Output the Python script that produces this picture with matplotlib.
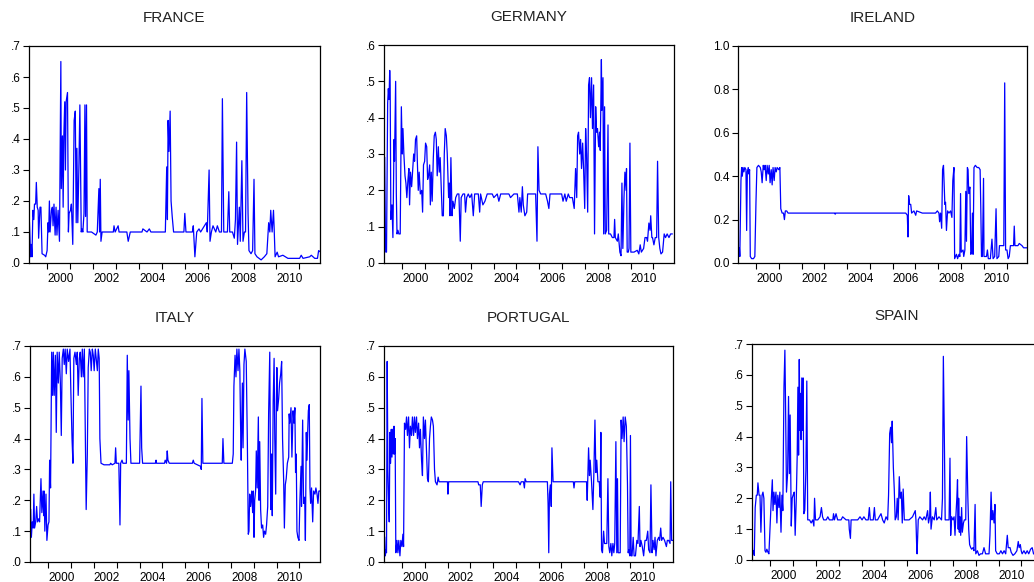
import matplotlib
matplotlib.use("Agg")
import matplotlib.pyplot as plt
from matplotlib.ticker import FixedLocator, FuncFormatter

plt.rcParams['font.family'] = ['Liberation Sans', 'DejaVu Sans']

# values, as (decimal year, value)
france_x = [1999.22, 1999.27, 1999.30, 1999.33, 1999.37, 1999.41, 1999.44, 1999.49, 1999.52, 1999.56,
            1999.60, 1999.62, 1999.68, 1999.72, 1999.77, 1999.88, 1999.93, 1999.99, 2000.03, 2000.06,
            2000.09, 2000.12, 2000.18, 2000.22, 2000.25, 2000.29, 2000.34, 2000.38, 2000.42, 2000.47,
            2000.53, 2000.59, 2000.61, 2000.66, 2000.69, 2000.72, 2000.76, 2000.79, 2000.82, 2000.88,
            2000.92, 2000.95, 2001.01, 2001.05, 2001.11, 2001.17, 2001.22, 2001.26, 2001.29, 2001.33,
            2001.38, 2001.42, 2001.48, 2001.51, 2001.55, 2001.60, 2001.64, 2001.67, 2001.71, 2001.74,
            2001.93, 2002.12, 2002.18, 2002.25, 2002.28, 2002.31, 2002.34, 2002.39, 2002.88, 2002.91,
            2002.96, 2003.09, 2003.13, 2003.47, 2003.53, 2003.62, 2004.13, 2004.17, 2004.35, 2004.45,
            2004.52, 2005.15, 2005.21, 2005.24, 2005.27, 2005.31, 2005.36, 2005.40, 2005.45, 2005.51,
            2005.96, 2006.00, 2006.05, 2006.33, 2006.37, 2006.44, 2006.52, 2006.62, 2006.69, 2006.94,
            2006.98, 2007.06, 2007.10, 2007.16, 2007.23, 2007.35, 2007.42, 2007.51, 2007.60, 2007.64,
            2007.70, 2007.86, 2007.92, 2007.96, 2008.08, 2008.16, 2008.21, 2008.26, 2008.30, 2008.38,
            2008.42, 2008.49, 2008.54, 2008.60, 2008.65, 2008.70, 2008.76, 2008.80, 2008.89, 2008.96,
            2009.02, 2009.06, 2009.15, 2009.33, 2009.47, 2009.58, 2009.66, 2009.71, 2009.75, 2009.81,
            2009.87, 2009.90, 2009.94, 2010.03, 2010.09, 2010.28, 2010.50, 2011.01, 2011.08, 2011.16,
            2011.45, 2011.52, 2011.67, 2011.79, 2011.84, 2011.93]
france_y = [0.13, 0.02, 0.06, 0.02, 0.17, 0.14, 0.19, 0.19, 0.26, 0.18,
            0.17, 0.08, 0.18, 0.18, 0.03, 0.025, 0.02, 0.04, 0.13, 0.10,
            0.20, 0.10, 0.17, 0.18, 0.12, 0.19, 0.09, 0.18, 0.09, 0.17,
            0.07, 0.65, 0.24, 0.41, 0.18, 0.41, 0.52, 0.30, 0.52, 0.55,
            0.10, 0.16, 0.17, 0.19, 0.06, 0.46, 0.49, 0.13, 0.37, 0.13,
            0.32, 0.51, 0.10, 0.11, 0.10, 0.16, 0.51, 0.15, 0.51, 0.10,
            0.10, 0.09, 0.10, 0.24, 0.10, 0.27, 0.07, 0.10, 0.10, 0.12,
            0.10, 0.12, 0.10, 0.10, 0.07, 0.10, 0.10, 0.11, 0.10, 0.11,
            0.10, 0.10, 0.31, 0.14, 0.46, 0.36, 0.49, 0.20, 0.15, 0.10,
            0.10, 0.16, 0.10, 0.10, 0.12, 0.02, 0.10, 0.11, 0.10, 0.13,
            0.10, 0.30, 0.07, 0.10, 0.12, 0.10, 0.12, 0.10, 0.10, 0.53,
            0.10, 0.10, 0.23, 0.10, 0.10, 0.08, 0.14, 0.39, 0.06, 0.18,
            0.07, 0.33, 0.07, 0.10, 0.10, 0.55, 0.16, 0.04, 0.03, 0.04,
            0.27, 0.03, 0.02, 0.01, 0.02, 0.03, 0.13, 0.10, 0.17, 0.10,
            0.17, 0.11, 0.02, 0.035, 0.02, 0.025, 0.015, 0.015, 0.025, 0.015,
            0.02, 0.025, 0.015, 0.015, 0.04, 0.035]

germany_x = [1999.23, 1999.26, 1999.28, 1999.31, 1999.36, 1999.39, 1999.42, 1999.45, 1999.47, 1999.50,
             1999.55, 1999.59, 1999.64, 1999.66, 1999.71, 1999.74, 1999.77, 1999.81, 1999.85, 1999.91,
             1999.96, 2000.00, 2000.03, 2000.07, 2000.12, 2000.16, 2000.20, 2000.25, 2000.29, 2000.32,
             2000.36, 2000.41, 2000.45, 2000.50, 2000.54, 2000.58, 2000.63, 2000.66, 2000.70, 2000.74,
             2000.79, 2000.85, 2000.89, 2000.93, 2000.98, 2001.02, 2001.07, 2001.11, 2001.15, 2001.20,
             2001.23, 2001.27, 2001.31, 2001.36, 2001.40, 2001.45, 2001.49, 2001.53, 2001.58, 2001.62,
             2001.66, 2001.71, 2001.75, 2001.80, 2001.84, 2001.88, 2001.93, 2001.97, 2002.03, 2002.06,
             2002.09, 2002.13, 2002.18, 2002.22, 2002.28, 2002.34, 2002.41, 2002.48, 2002.54, 2002.58,
             2002.66, 2002.73, 2002.77, 2002.82, 2002.89, 2002.96, 2003.04, 2003.11, 2003.17, 2003.26,
             2003.33, 2003.39, 2003.43, 2003.53, 2003.62, 2003.72, 2003.94, 2004.01, 2004.16, 2004.23,
             2004.31, 2004.67, 2004.74, 2004.89, 2005.04, 2005.11, 2005.15, 2005.21, 2005.26, 2005.30,
             2005.37, 2005.45, 2005.49, 2005.62, 2005.77, 2005.84, 2005.90, 2005.94, 2005.99, 2006.06,
             2006.28, 2006.36, 2006.42, 2006.47, 2006.72, 2006.98, 2007.04, 2007.12, 2007.18, 2007.27,
             2007.33, 2007.45, 2007.53, 2007.59, 2007.64, 2007.68, 2007.72, 2007.77, 2007.81, 2007.85,
             2007.90, 2007.94, 2007.99, 2008.03, 2008.07, 2008.12, 2008.16, 2008.20, 2008.24, 2008.29,
             2008.33, 2008.38, 2008.42, 2008.47, 2008.51, 2008.55, 2008.60, 2008.64, 2008.67, 2008.72,
             2008.74, 2008.79, 2008.82, 2008.86, 2008.89, 2008.95, 2009.01, 2009.04, 2009.12, 2009.20,
             2009.27, 2009.30, 2009.33, 2009.42, 2009.46, 2009.53, 2009.58, 2009.62, 2009.66, 2009.71,
             2009.75, 2009.80, 2009.82, 2009.85, 2009.90, 2009.93, 2009.97, 2010.01, 2010.15, 2010.29,
             2010.36, 2010.42, 2010.47, 2010.57, 2010.63, 2010.70, 2010.74, 2010.80, 2010.85, 2010.88,
             2010.93, 2010.96, 2011.02, 2011.08, 2011.14, 2011.18, 2011.23, 2011.28, 2011.33, 2011.40,
             2011.47, 2011.53, 2011.60, 2011.68, 2011.75, 2011.82]
germany_y = [0.29, 0.08, 0.03, 0.03, 0.44, 0.48, 0.45, 0.53, 0.49, 0.12,
             0.16, 0.07, 0.34, 0.28, 0.50, 0.19, 0.08, 0.09, 0.08, 0.08,
             0.43, 0.30, 0.37, 0.30, 0.24, 0.22, 0.18, 0.23, 0.26, 0.16,
             0.25, 0.21, 0.25, 0.30, 0.28, 0.34, 0.35, 0.28, 0.20, 0.25,
             0.19, 0.20, 0.14, 0.27, 0.28, 0.33, 0.32, 0.23, 0.24, 0.27,
             0.16, 0.25, 0.17, 0.29, 0.35, 0.36, 0.34, 0.24, 0.32, 0.25,
             0.29, 0.20, 0.13, 0.13, 0.30, 0.37, 0.35, 0.30, 0.18, 0.22,
             0.13, 0.29, 0.13, 0.17, 0.15, 0.18, 0.19, 0.19, 0.06, 0.18,
             0.19, 0.19, 0.14, 0.18, 0.19, 0.18, 0.19, 0.13, 0.19, 0.19,
             0.19, 0.14, 0.19, 0.16, 0.17, 0.19, 0.19, 0.18, 0.19, 0.17,
             0.19, 0.19, 0.18, 0.19, 0.19, 0.14, 0.18, 0.14, 0.21, 0.16,
             0.13, 0.14, 0.19, 0.19, 0.19, 0.19, 0.06, 0.32, 0.20, 0.19,
             0.19, 0.17, 0.15, 0.19, 0.19, 0.19, 0.17, 0.19, 0.17, 0.19,
             0.18, 0.18, 0.15, 0.26, 0.18, 0.35, 0.36, 0.30, 0.34, 0.26,
             0.33, 0.26, 0.15, 0.37, 0.30, 0.14, 0.49, 0.51, 0.40, 0.51,
             0.37, 0.49, 0.08, 0.43, 0.36, 0.37, 0.32, 0.36, 0.31, 0.56,
             0.42, 0.51, 0.08, 0.43, 0.08, 0.09, 0.38, 0.08, 0.08, 0.07,
             0.07, 0.12, 0.07, 0.06, 0.08, 0.03, 0.02, 0.22, 0.04, 0.18,
             0.25, 0.20, 0.26, 0.03, 0.03, 0.04, 0.33, 0.03, 0.03, 0.035,
             0.025, 0.05, 0.03, 0.04, 0.07, 0.07, 0.06, 0.11, 0.09, 0.13,
             0.07, 0.07, 0.05, 0.07, 0.07, 0.28, 0.07, 0.04, 0.025, 0.03,
             0.08, 0.07, 0.08, 0.07, 0.08, 0.08]

ireland_x = [1999.20, 1999.23, 1999.26, 1999.28, 1999.33, 1999.36, 1999.39, 1999.42, 1999.46, 1999.50,
             1999.55, 1999.58, 1999.61, 1999.65, 1999.68, 1999.71, 1999.74, 1999.80, 1999.88, 1999.94,
             1999.99, 2000.03, 2000.10, 2000.18, 2000.22, 2000.26, 2000.31, 2000.35, 2000.39, 2000.44,
             2000.48, 2000.53, 2000.57, 2000.61, 2000.66, 2000.70, 2000.74, 2000.79, 2000.83, 2000.88,
             2000.92, 2000.99, 2001.04, 2001.08, 2001.14, 2001.20, 2001.24, 2001.28, 2001.34, 2001.40,
             2002.63, 2003.46, 2003.47, 2003.50, 2004.38, 2005.26, 2006.20, 2006.57, 2006.64, 2006.67,
             2006.70, 2006.74, 2006.79, 2006.83, 2006.93, 2007.01, 2007.05, 2007.30, 2007.88, 2007.96,
             2008.03, 2008.06, 2008.10, 2008.15, 2008.19, 2008.23, 2008.29, 2008.32, 2008.36, 2008.41,
             2008.47, 2008.54, 2008.60, 2008.64, 2008.69, 2008.72, 2008.76, 2008.80, 2008.85, 2008.91,
             2008.95, 2008.98, 2009.01, 2009.09, 2009.12, 2009.17, 2009.21, 2009.24, 2009.28, 2009.31,
             2009.34, 2009.39, 2009.43, 2009.47, 2009.50, 2009.53, 2009.57, 2009.63, 2009.71, 2009.78,
             2009.84, 2009.87, 2009.90, 2009.94, 2009.99, 2010.01, 2010.12, 2010.16, 2010.20, 2010.29,
             2010.36, 2010.41, 2010.48, 2010.54, 2010.58, 2010.66, 2010.69, 2010.80, 2010.88, 2010.92,
             2010.96, 2011.02, 2011.07, 2011.12, 2011.17, 2011.31, 2011.34, 2011.37, 2011.50, 2011.56,
             2011.68, 2011.75, 2011.90]
ireland_y = [0.07, 0.03, 0.07, 0.03, 0.38, 0.44, 0.40, 0.44, 0.42, 0.44,
             0.43, 0.15, 0.42, 0.44, 0.41, 0.43, 0.03, 0.02, 0.02, 0.03,
             0.28, 0.44, 0.45, 0.44, 0.42, 0.37, 0.45, 0.43, 0.45, 0.38,
             0.45, 0.41, 0.45, 0.37, 0.43, 0.36, 0.44, 0.38, 0.44, 0.42,
             0.44, 0.43, 0.44, 0.25, 0.23, 0.23, 0.20, 0.24, 0.24, 0.23,
             0.23, 0.23, 0.225, 0.23, 0.23, 0.23, 0.23, 0.23, 0.22, 0.12,
             0.31, 0.27, 0.27, 0.23, 0.24, 0.22, 0.24, 0.23, 0.23, 0.24,
             0.23, 0.19, 0.23, 0.16, 0.43, 0.45, 0.27, 0.28, 0.15, 0.24,
             0.23, 0.24, 0.21, 0.38, 0.44, 0.02, 0.03, 0.04, 0.02, 0.04,
             0.03, 0.32, 0.05, 0.06, 0.03, 0.06, 0.33, 0.10, 0.44, 0.43,
             0.32, 0.35, 0.04, 0.05, 0.23, 0.04, 0.44, 0.45, 0.44, 0.44,
             0.43, 0.25, 0.03, 0.03, 0.39, 0.03, 0.03, 0.06, 0.02, 0.02,
             0.11, 0.02, 0.03, 0.25, 0.02, 0.03, 0.08, 0.08, 0.08, 0.83,
             0.06, 0.06, 0.02, 0.03, 0.08, 0.08, 0.17, 0.08, 0.08, 0.09,
             0.08, 0.07, 0.07]

italy_x = [1999.23, 1999.26, 1999.30, 1999.34, 1999.37, 1999.40, 1999.45, 1999.49, 1999.53, 1999.58,
           1999.62, 1999.68, 1999.72, 1999.77, 1999.80, 1999.82, 1999.85, 1999.90, 1999.94, 1999.99,
           2000.03, 2000.06, 2000.10, 2000.15, 2000.19, 2000.22, 2000.26, 2000.31, 2000.35, 2000.39,
           2000.44, 2000.48, 2000.53, 2000.57, 2000.61, 2000.66, 2000.70, 2000.74, 2000.79, 2000.83,
           2000.89, 2000.95, 2000.99, 2001.04, 2001.08, 2001.12, 2001.17, 2001.23, 2001.27, 2001.31,
           2001.36, 2001.40, 2001.45, 2001.49, 2001.53, 2001.58, 2001.62, 2001.66, 2001.71, 2001.75,
           2001.80, 2001.84, 2001.88, 2001.93, 2001.97, 2002.01, 2002.06, 2002.10, 2002.15, 2002.19,
           2002.23, 2002.26, 2002.31, 2002.44, 2002.70, 2002.73, 2002.80, 2002.92, 2002.95, 2002.98,
           2003.09, 2003.14, 2003.17, 2003.23, 2003.27, 2003.42, 2003.46, 2003.50, 2003.53, 2003.58,
           2003.62, 2004.00, 2004.03, 2004.06, 2004.09, 2004.13, 2004.69, 2004.72, 2004.74, 2005.09,
           2005.12, 2005.18, 2005.21, 2005.24, 2005.30, 2005.87, 2006.31, 2006.35, 2006.39, 2006.67,
           2006.70, 2006.73, 2006.77, 2007.62, 2007.65, 2007.69, 2008.06, 2008.10, 2008.13, 2008.18,
           2008.22, 2008.26, 2008.31, 2008.35, 2008.39, 2008.42, 2008.45, 2008.50, 2008.53, 2008.57,
           2008.61, 2008.67, 2008.72, 2008.76, 2008.79, 2008.82, 2008.86, 2008.91, 2008.95, 2008.98,
           2009.01, 2009.04, 2009.08, 2009.11, 2009.15, 2009.20, 2009.23, 2009.26, 2009.30, 2009.34,
           2009.39, 2009.43, 2009.47, 2009.52, 2009.56, 2009.61, 2009.65, 2009.70, 2009.74, 2009.78,
           2009.81, 2009.85, 2009.89, 2009.92, 2009.96, 2009.99, 2010.01, 2010.04, 2010.09, 2010.13,
           2010.18, 2010.22, 2010.26, 2010.31, 2010.34, 2010.38, 2010.42, 2010.47, 2010.53, 2010.55,
           2010.58, 2010.63, 2010.67, 2010.72, 2010.76, 2010.80, 2010.83, 2010.86, 2010.89, 2010.93,
           2010.98, 2011.02, 2011.07, 2011.09, 2011.14, 2011.18, 2011.23, 2011.26, 2011.30, 2011.33,
           2011.36, 2011.39, 2011.43, 2011.46, 2011.49, 2011.53, 2011.58, 2011.62, 2011.68, 2011.72,
           2011.77, 2011.81, 2011.85, 2011.90]
italy_y = [0.17, 0.08, 0.13, 0.11, 0.22, 0.11, 0.13, 0.18, 0.13, 0.14,
           0.13, 0.27, 0.16, 0.23, 0.15, 0.23, 0.10, 0.22, 0.07, 0.12,
           0.13, 0.33, 0.24, 0.68, 0.54, 0.68, 0.54, 0.67, 0.42, 0.68,
           0.58, 0.68, 0.58, 0.41, 0.66, 0.69, 0.64, 0.69, 0.61, 0.69,
           0.65, 0.69, 0.55, 0.40, 0.32, 0.66, 0.68, 0.64, 0.68, 0.54,
           0.66, 0.68, 0.60, 0.69, 0.60, 0.69, 0.42, 0.17, 0.35, 0.63,
           0.69, 0.68, 0.62, 0.69, 0.67, 0.62, 0.69, 0.66, 0.62, 0.69,
           0.66, 0.40, 0.32, 0.315, 0.315, 0.32, 0.315, 0.32, 0.37, 0.32,
           0.32, 0.12, 0.32, 0.33, 0.32, 0.32, 0.67, 0.46, 0.62, 0.40,
           0.32, 0.32, 0.44, 0.57, 0.37, 0.32, 0.32, 0.33, 0.32, 0.32,
           0.33, 0.32, 0.36, 0.33, 0.32, 0.32, 0.32, 0.33, 0.32, 0.31,
           0.30, 0.53, 0.32, 0.32, 0.40, 0.32, 0.32, 0.35, 0.57, 0.67,
           0.60, 0.69, 0.62, 0.69, 0.62, 0.45, 0.33, 0.58, 0.37, 0.64,
           0.69, 0.65, 0.38, 0.09, 0.10, 0.22, 0.18, 0.23, 0.16, 0.23,
           0.08, 0.20, 0.23, 0.36, 0.24, 0.47, 0.20, 0.39, 0.17, 0.11,
           0.12, 0.08, 0.10, 0.09, 0.12, 0.18, 0.48, 0.68, 0.17, 0.35,
           0.15, 0.52, 0.66, 0.40, 0.22, 0.52, 0.63, 0.49, 0.53, 0.58,
           0.61, 0.65, 0.40, 0.26, 0.11, 0.25, 0.27, 0.32, 0.34, 0.48,
           0.45, 0.50, 0.34, 0.49, 0.45, 0.50, 0.29, 0.35, 0.10, 0.08,
           0.07, 0.20, 0.31, 0.18, 0.46, 0.19, 0.21, 0.07, 0.42, 0.33,
           0.42, 0.49, 0.51, 0.24, 0.19, 0.24, 0.13, 0.23, 0.22, 0.24,
           0.22, 0.19, 0.23, 0.23]

portugal_x = [1999.23, 1999.26, 1999.28, 1999.31, 1999.34, 1999.37, 1999.40, 1999.43, 1999.46, 1999.49,
              1999.52, 1999.55, 1999.58, 1999.61, 1999.64, 1999.66, 1999.69, 1999.72, 1999.77, 1999.81,
              1999.85, 1999.90, 1999.94, 1999.99, 2000.03, 2000.06, 2000.10, 2000.15, 2000.19, 2000.23,
              2000.28, 2000.32, 2000.36, 2000.41, 2000.45, 2000.50, 2000.54, 2000.58, 2000.63, 2000.67,
              2000.72, 2000.76, 2000.80, 2000.85, 2000.89, 2000.93, 2000.98, 2001.02, 2001.07, 2001.11,
              2001.15, 2001.20, 2001.24, 2001.28, 2001.33, 2001.37, 2001.42, 2001.46, 2001.53, 2001.58,
              2001.62, 2001.99, 2002.01, 2002.04, 2003.33, 2003.36, 2003.43, 2003.47, 2003.52, 2003.56,
              2005.11, 2005.18, 2005.23, 2005.33, 2005.37, 2005.40, 2005.45, 2006.38, 2006.41, 2006.44,
              2006.47, 2006.51, 2006.55, 2006.58, 2006.63, 2007.52, 2007.55, 2007.58, 2008.10, 2008.13,
              2008.19, 2008.23, 2008.26, 2008.32, 2008.38, 2008.42, 2008.47, 2008.51, 2008.55, 2008.60,
              2008.66, 2008.70, 2008.73, 2008.76, 2008.80, 2008.85, 2008.89, 2008.99, 2009.04, 2009.08,
              2009.12, 2009.17, 2009.21, 2009.26, 2009.30, 2009.34, 2009.39, 2009.43, 2009.46, 2009.49,
              2009.58, 2009.62, 2009.66, 2009.71, 2009.75, 2009.80, 2009.85, 2009.90, 2009.93, 2009.96,
              2010.00, 2010.03, 2010.06, 2010.10, 2010.15, 2010.19, 2010.25, 2010.31, 2010.36, 2010.42,
              2010.45, 2010.49, 2010.55, 2010.61, 2010.67, 2010.73, 2010.79, 2010.83, 2010.89, 2010.93,
              2010.98, 2011.02, 2011.07, 2011.11, 2011.15, 2011.21, 2011.27, 2011.31, 2011.36, 2011.40,
              2011.46, 2011.53, 2011.61, 2011.65, 2011.71, 2011.77, 2011.80, 2011.84, 2011.88]
portugal_y = [0.08, 0.02, 0.04, 0.03, 0.65, 0.30, 0.20, 0.13, 0.42, 0.32,
              0.43, 0.34, 0.43, 0.35, 0.44, 0.35, 0.40, 0.03, 0.07, 0.03,
              0.07, 0.02, 0.07, 0.05, 0.09, 0.05, 0.45, 0.43, 0.47, 0.41,
              0.47, 0.37, 0.44, 0.41, 0.47, 0.41, 0.47, 0.42, 0.47, 0.40,
              0.45, 0.37, 0.43, 0.33, 0.28, 0.47, 0.40, 0.46, 0.35, 0.27,
              0.26, 0.40, 0.44, 0.47, 0.46, 0.44, 0.30, 0.26, 0.25, 0.275,
              0.26, 0.26, 0.22, 0.26, 0.26, 0.25, 0.25, 0.18, 0.25, 0.26,
              0.26, 0.25, 0.26, 0.26, 0.24, 0.27, 0.26, 0.26, 0.19, 0.03,
              0.22, 0.25, 0.18, 0.37, 0.26, 0.26, 0.24, 0.26, 0.26, 0.20,
              0.37, 0.28, 0.33, 0.26, 0.17, 0.28, 0.46, 0.29, 0.33, 0.26,
              0.26, 0.21, 0.42, 0.04, 0.03, 0.10, 0.06, 0.06, 0.27, 0.05,
              0.03, 0.06, 0.02, 0.06, 0.03, 0.06, 0.39, 0.03, 0.27, 0.03,
              0.03, 0.46, 0.40, 0.47, 0.39, 0.47, 0.44, 0.25, 0.03, 0.04,
              0.02, 0.41, 0.02, 0.02, 0.08, 0.02, 0.02, 0.07, 0.06, 0.18,
              0.05, 0.07, 0.05, 0.02, 0.07, 0.07, 0.10, 0.04, 0.03, 0.25,
              0.03, 0.07, 0.04, 0.08, 0.02, 0.07, 0.08, 0.07, 0.11, 0.07,
              0.08, 0.07, 0.05, 0.07, 0.07, 0.06, 0.26, 0.07, 0.07]

spain_x = [1999.20, 1999.23, 1999.27, 1999.30, 1999.34, 1999.39, 1999.43, 1999.46, 1999.51, 1999.55,
           1999.59, 1999.64, 1999.68, 1999.72, 1999.77, 1999.81, 1999.85, 1999.90, 1999.94, 2000.00,
           2000.04, 2000.09, 2000.12, 2000.16, 2000.20, 2000.25, 2000.29, 2000.33, 2000.38, 2000.42,
           2000.47, 2000.51, 2000.55, 2000.60, 2000.64, 2000.67, 2000.71, 2000.76, 2000.80, 2000.84,
           2000.87, 2000.92, 2000.96, 2001.00, 2001.05, 2001.09, 2001.14, 2001.18, 2001.21, 2001.24,
           2001.27, 2001.30, 2001.32, 2001.35, 2001.38, 2001.41, 2001.44, 2001.47, 2001.51, 2001.56,
           2001.60, 2001.64, 2001.72, 2001.79, 2001.86, 2001.91, 2001.94, 2001.98, 2002.08, 2002.18,
           2002.24, 2002.29, 2002.34, 2002.45, 2002.52, 2002.59, 2002.74, 2002.77, 2002.81, 2002.88,
           2002.95, 2003.10, 2003.17, 2003.32, 2003.44, 2003.46, 2003.51, 2003.54, 2003.68, 2003.83,
           2003.93, 2004.02, 2004.10, 2004.19, 2004.29, 2004.34, 2004.38, 2004.51, 2004.56, 2004.60,
           2004.70, 2004.77, 2004.85, 2004.92, 2004.99, 2005.07, 2005.14, 2005.18, 2005.23, 2005.27,
           2005.31, 2005.34, 2005.39, 2005.43, 2005.47, 2005.52, 2005.56, 2005.60, 2005.65, 2005.69,
           2005.74, 2005.78, 2005.82, 2005.87, 2005.94, 2006.08, 2006.23, 2006.35, 2006.38, 2006.41,
           2006.43, 2006.48, 2006.55, 2006.67, 2006.74, 2006.81, 2006.89, 2006.93, 2006.98, 2007.01,
           2007.04, 2007.10, 2007.18, 2007.25, 2007.29, 2007.39, 2007.50, 2007.54, 2007.58, 2007.63,
           2007.66, 2007.76, 2007.83, 2007.87, 2007.90, 2007.94, 2008.00, 2008.05, 2008.09, 2008.12,
           2008.17, 2008.20, 2008.23, 2008.25, 2008.28, 2008.31, 2008.34, 2008.38, 2008.41, 2008.46,
           2008.50, 2008.56, 2008.60, 2008.65, 2008.69, 2008.73, 2008.78, 2008.82, 2008.88, 2008.92,
           2008.97, 2009.00, 2009.07, 2009.14, 2009.21, 2009.29, 2009.36, 2009.43, 2009.51, 2009.58,
           2009.62, 2009.67, 2009.71, 2009.75, 2009.80, 2009.84, 2009.87, 2009.94, 2010.03, 2010.10,
           2010.17, 2010.24, 2010.31, 2010.38, 2010.42, 2010.50, 2010.55, 2010.63, 2010.71, 2010.80,
           2010.86, 2010.90, 2010.95, 2010.99, 2011.03, 2011.11, 2011.18, 2011.25, 2011.32, 2011.40,
           2011.47, 2011.53]
spain_y = [0.07, 0.02, 0.03, 0.015, 0.17, 0.21, 0.21, 0.25, 0.21, 0.21,
           0.09, 0.21, 0.22, 0.20, 0.03, 0.025, 0.035, 0.025, 0.02, 0.12,
           0.19, 0.26, 0.16, 0.22, 0.18, 0.22, 0.12, 0.21, 0.17, 0.22,
           0.09, 0.21, 0.16, 0.56, 0.68, 0.50, 0.22, 0.28, 0.53, 0.28,
           0.47, 0.11, 0.20, 0.21, 0.22, 0.08, 0.20, 0.34, 0.56, 0.34,
           0.65, 0.42, 0.54, 0.39, 0.59, 0.42, 0.59, 0.15, 0.16, 0.29,
           0.58, 0.13, 0.13, 0.12, 0.13, 0.11, 0.20, 0.13, 0.13, 0.14,
           0.17, 0.14, 0.13, 0.13, 0.14, 0.13, 0.13, 0.15, 0.13, 0.15,
           0.13, 0.13, 0.14, 0.13, 0.13, 0.10, 0.07, 0.13, 0.13, 0.13,
           0.14, 0.13, 0.14, 0.13, 0.13, 0.17, 0.13, 0.13, 0.17, 0.13,
           0.13, 0.14, 0.15, 0.13, 0.12, 0.14, 0.13, 0.21, 0.41, 0.43,
           0.38, 0.45, 0.30, 0.23, 0.13, 0.14, 0.20, 0.13, 0.27, 0.20,
           0.22, 0.12, 0.23, 0.13, 0.13, 0.13, 0.14, 0.16, 0.13, 0.05,
           0.02, 0.13, 0.14, 0.13, 0.14, 0.13, 0.16, 0.12, 0.14, 0.22,
           0.10, 0.14, 0.13, 0.17, 0.13, 0.14, 0.13, 0.20, 0.66, 0.35,
           0.13, 0.13, 0.13, 0.33, 0.08, 0.14, 0.13, 0.14, 0.08, 0.13,
           0.20, 0.26, 0.10, 0.20, 0.09, 0.14, 0.08, 0.17, 0.09, 0.12,
           0.13, 0.13, 0.40, 0.21, 0.10, 0.05, 0.04, 0.035, 0.04, 0.03,
           0.18, 0.02, 0.03, 0.015, 0.02, 0.02, 0.04, 0.02, 0.02, 0.02,
           0.08, 0.22, 0.13, 0.16, 0.12, 0.18, 0.03, 0.02, 0.02, 0.03,
           0.02, 0.03, 0.02, 0.08, 0.04, 0.04, 0.025, 0.015, 0.02, 0.03,
           0.06, 0.04, 0.05, 0.03, 0.02, 0.03, 0.02, 0.03, 0.02, 0.035,
           0.04, 0.02]

titles = ["FRANCE", "GERMANY", "IRELAND", "ITALY", "PORTUGAL", "SPAIN"]
series = [(france_x, france_y), (germany_x, germany_y), (ireland_x, ireland_y),
          (italy_x, italy_y), (portugal_x, portugal_y), (spain_x, spain_y)]
ymax = [0.7, 0.6, 1.0, 0.7, 0.7, 0.7]
years = list(range(2000, 2012))

# axes boxes in pixels: left, top, right, bottom (Spain runs past the image edge)
W, H = 1034, 582
boxes = [(29, 46, 320, 263), (384, 45, 674, 263), (738, 46, 1027, 263),
         (30, 346, 320, 562), (384, 346, 673, 562), (752, 344, 1042, 560)]

fig = plt.figure(figsize=(W / 100, H / 100), dpi=100)

for i in range(6):
    l, t, r, b = boxes[i]
    ax = fig.add_axes([l / W, 1 - b / H, (r - l) / W, (b - t) / H])
    x, y = series[i]
    ax.plot(x, y, color='#0000ff', lw=0.9)
    ax.set_xlim(1999.2, 2011.9)
    ax.set_ylim(0, ymax[i])

    if ymax[i] == 1.0:
        yt = [0.0, 0.2, 0.4, 0.6, 0.8, 1.0]
        fmt = FuncFormatter(lambda v, p: '%.1f' % v)
    else:
        yt = [k / 10 for k in range(int(round(ymax[i] * 10)) + 1)]
        fmt = FuncFormatter(lambda v, p: ('%.1f' % v).lstrip('0'))
    ax.yaxis.set_major_locator(FixedLocator(yt))
    ax.yaxis.set_major_formatter(fmt)

    ax.xaxis.set_major_locator(FixedLocator(years))
    ax.set_xticklabels([str(yr) if yr % 2 == 0 else '' for yr in years])
    for lab in ax.get_xticklabels():
        lab.set_ha('left')

    ax.tick_params(direction='out', length=4, width=0.8, labelsize=8.5, pad=2,
                   top=False, right=False, colors='black')
    ax.tick_params(axis='x', pad=3)
    for s in ax.spines.values():
        s.set_linewidth(0.9)
        s.set_color('black')

    ax.set_title(titles[i], fontsize=11, pad=17, color='#222222')

fig.savefig("out.png", dpi=100)
